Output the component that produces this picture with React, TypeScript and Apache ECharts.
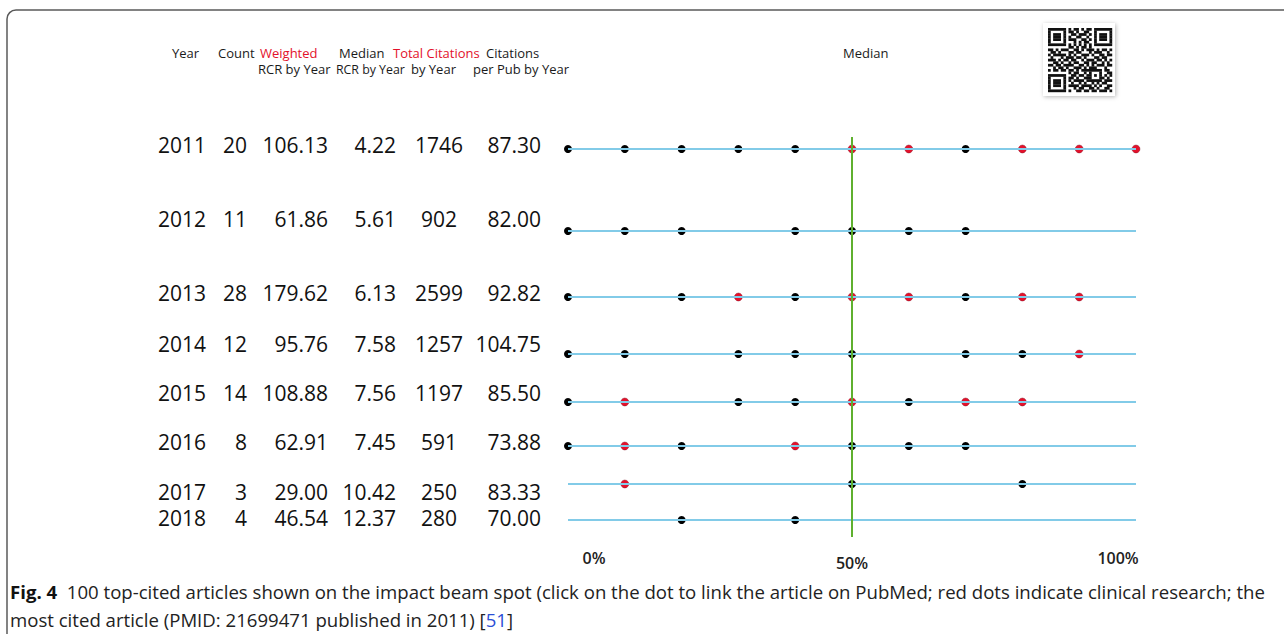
import React, { useEffect, useRef } from "react";
import * as echarts from "echarts";

// ---------------- data ----------------
const YEARS = ["2011", "2012", "2013", "2014", "2015", "2016", "2017", "2018"];
const COUNTS = ["20", "11", "28", "12", "14", "8", "3", "4"];
const WEIGHTED_RCR = ["106.13", "61.86", "179.62", "95.76", "108.88", "62.91", "29.00", "46.54"];
const MEDIAN_RCR = ["4.22", "5.61", "6.13", "7.58", "7.56", "7.45", "10.42", "12.37"];
const TOTAL_CITATIONS = ["1746", "902", "2599", "1257", "1197", "591", "250", "280"];
const CITATIONS_PER_PUB = ["87.30", "82.00", "92.82", "104.75", "85.50", "73.88", "83.33", "70.00"];

// percentile positions of the dots, per year (black = basic, red = clinical)
const BASIC_DOTS = [
  [0, 10, 20, 30, 40, 70],
  [0, 10, 20, 40, 50, 60, 70],
  [0, 20, 40, 70],
  [0, 10, 30, 40, 50, 70, 80],
  [0, 30, 40, 60],
  [0, 20, 50, 60, 70],
  [50, 80],
  [20, 40],
];
const CLINICAL_DOTS = [
  [50, 60, 80, 90, 100],
  [],
  [30, 50, 60, 80, 90],
  [90],
  [10, 50, 70, 80],
  [10, 40],
  [10],
  [],
];
const X_TICKS = [0, 50, 100];
const X_TICK_LABELS = ["0%", "50%", "100%"];
const MEDIAN_PCT = 50;

// ---------------- layout ----------------
const GRID_TOP = 137;
const GRID_H = 400;
const BEAM_ROW_Y = [12, 94, 160, 217, 265, 309, 347, 383];
const TABLE_ROW_Y = [8, 82, 156, 207, 256, 305, 355, 381];
const X_LABEL_DX = [26, 0, -18];
const X_LABEL_Y = [558, 563, 558];

const QR = [
  "1111111010110101101111111",
  "1000001011010011001000001",
  "1011101001101110101011101",
  "1011101010011001001011101",
  "1011101011100110101011101",
  "1000001000101011001000001",
  "1111111010101010101111111",
  "0000000011010110100000000",
  "1101011100110101110101101",
  "0110100011011000101110010",
  "1011111010100111010011011",
  "0100010111011010001101100",
  "1110101101100101110110101",
  "0011010010110011011001010",
  "1101101111001101010111011",
  "0010110100111010111000100",
  "1011011011010111111110110",
  "0000000010110010100010011",
  "1111111001101101101010101",
  "1000001011010011100011010",
  "1011101010111101111110111",
  "1011101001001010010101100",
  "1011101011110111101010011",
  "1000001000101100110100110",
  "1111111010011011011011101",
];

const FONT = "'Open Sans', 'Noto Sans', sans-serif";
const RED = "#e3112b";
const BLUE = "#82cbe8";
const GREEN = "#5fb02f";

function txt(x: number, y: number, text: string, opts: any = {}) {
  const align = opts.align || "left";
  return {
    type: "text",
    x,
    y,
    silent: true,
    z: 10,
    scaleX: opts.scaleX || 1,
    style: {
      text,
      fill: opts.fill || "#1a1a1a",
      fontSize: opts.fontSize || 13,
      fontFamily: opts.fontFamily || FONT,
      fontWeight: opts.fontWeight || "normal",
      align,
      textAlign: align,
      verticalAlign: "middle",
      textVerticalAlign: "middle",
      rich: opts.rich,
    },
  };
}

export default function App() {
  const ref = useRef<HTMLDivElement>(null);

  useEffect(() => {
    if (!ref.current) return;
    const chart = echarts.init(ref.current, undefined, { renderer: "svg" });

    const basicData: number[][] = [];
    const clinicalData: number[][] = [];
    BASIC_DOTS.forEach((row, i) => row.forEach((p) => basicData.push([p, BEAM_ROW_Y[i]])));
    CLINICAL_DOTS.forEach((row, i) => row.forEach((p) => clinicalData.push([p, BEAM_ROW_Y[i]])));

    const option: any = {
      animation: false,
      backgroundColor: "#ffffff",
      grid: { left: 568, right: 148, top: GRID_TOP, height: GRID_H },
      xAxis: { type: "value", min: 0, max: 100, show: false },
      yAxis: { type: "value", min: 0, max: GRID_H, inverse: true, show: false },
      series: [
        {
          type: "line",
          data: [],
          silent: true,
          z: 1,
          markLine: {
            silent: true,
            symbol: ["none", "none"],
            label: { show: false },
            animation: false,
            data: [
              ...BEAM_ROW_Y.map((y) => ({
                yAxis: y,
                lineStyle: { color: BLUE, width: 2, type: "solid", opacity: 1 },
              })),
              { xAxis: MEDIAN_PCT, lineStyle: { color: GREEN, width: 2, type: "solid", opacity: 1 } },
            ],
          },
        },
        {
          type: "scatter",
          name: "basic",
          data: basicData,
          symbolSize: 8,
          itemStyle: { color: "#000000", opacity: 1 },
          z: 3,
          silent: true,
        },
        {
          type: "scatter",
          name: "clinical",
          data: clinicalData,
          symbolSize: 8,
          itemStyle: { color: RED, opacity: 1, borderColor: "#7a1020", borderWidth: 0.4 },
          z: 4,
          silent: true,
        },
      ],
    };
    chart.setOption(option);

    const g: any[] = [];
    // figure border
    g.push({
      type: "rect",
      shape: { x: 7, y: 10, width: 1300, height: 660, r: 9 },
      style: { fill: "none", stroke: "#5a5a5a", lineWidth: 1.5 },
      silent: true,
      z: 0,
    });

    // header
    g.push(txt(172, 53, "Year"));
    g.push(txt(218, 53, "Count"));
    g.push(txt(260, 53, "Weighted", { fill: RED }));
    g.push(txt(339, 53, "Median"));
    g.push(txt(393, 53, "Total Citations", { fill: RED }));
    g.push(txt(486, 53, "Citations"));
    g.push(txt(258, 69, "RCR by Year"));
    g.push(txt(336, 69, "RCR by Year", { scaleX: 0.95 }));
    g.push(txt(411, 69, "by Year"));
    g.push(txt(473, 69, "per Pub by Year"));
    g.push(txt(843, 53, "Median"));

    // table rows
    const cols: [string[], number, string][] = [
      [YEARS, 158, "left"],
      [COUNTS, 247, "right"],
      [WEIGHTED_RCR, 328, "right"],
      [MEDIAN_RCR, 396, "right"],
      [TOTAL_CITATIONS, 439, "center"],
      [CITATIONS_PER_PUB, 541, "right"],
    ];
    YEARS.forEach((_, i) => {
      const py = chart.convertToPixel({ yAxisIndex: 0 } as any, TABLE_ROW_Y[i]) as number;
      cols.forEach(([arr, x, align]) => {
        g.push(txt(x, py, arr[i], { fontSize: 21, align, fill: "#111" }));
      });
    });

    // x labels
    X_TICKS.forEach((v, i) => {
      const px = chart.convertToPixel({ xAxisIndex: 0 } as any, v) as number;
      g.push(
        txt(px + X_LABEL_DX[i], X_LABEL_Y[i], X_TICK_LABELS[i], {
          fontSize: 16,
          align: "center",
          fontWeight: 600,
          fill: "#222",
        })
      );
    });

    // QR code card
    const qx = 1048, qy = 28, cell = 2.56;
    g.push({
      type: "rect",
      shape: { x: 1043, y: 23, width: 72, height: 73 },
      style: {
        fill: "#ffffff",
        shadowBlur: 4,
        shadowColor: "rgba(0,0,0,0.28)",
        shadowOffsetX: 1,
        shadowOffsetY: 1,
      },
      silent: true,
      z: 5,
    });
    QR.forEach((row, r) => {
      let c = 0;
      while (c < row.length) {
        if (row[c] === "1") {
          let e = c;
          while (e < row.length && row[e] === "1") e++;
          g.push({
            type: "rect",
            shape: { x: qx + c * cell, y: qy + r * cell, width: (e - c) * cell + 0.2, height: cell + 0.2 },
            style: { fill: "#111" },
            silent: true,
            z: 6,
          });
          c = e;
        } else c++;
      }
    });

    // caption
    g.push(
      txt(
        10,
        591,
        "{b|Fig. 4}  100 top-cited articles shown on the impact beam spot (click on the dot to link the article on PubMed; red dots indicate clinical research; the",
        {
          fontSize: 18.6,
          fill: "#222",
          rich: {
            b: { fontWeight: "bold", fontSize: 18.6, fontFamily: FONT, fill: "#111" },
          },
        }
      )
    );
    g.push(
      txt(10, 619, "most cited article (PMID: 21699471 published in 2011) [{l|51}]", {
        fontSize: 18.6,
        fill: "#222",
        rich: { l: { fontSize: 18.6, fontFamily: FONT, fill: "#2b4fd6" } },
      })
    );

    chart.setOption({ graphic: { elements: g } });

    return () => chart.dispose();
  }, []);

  return (
    <div
      ref={ref}
      style={{ position: "fixed", left: 0, top: 0, width: 1284, height: 634, background: "#fff" }}
    />
  );
}
